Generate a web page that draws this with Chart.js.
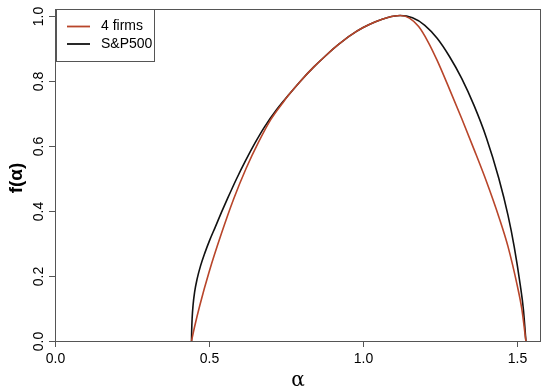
<!DOCTYPE html>
<html>
<head>
<meta charset="utf-8">
<script src="https://cdn.jsdelivr.net/npm/chart.js@4"></script>
<style>
  html, body { margin: 0; padding: 0; background: #fff; }
  #wrap { width: 550px; height: 391px; }
</style>
</head>
<body>
<div id="wrap"><canvas id="specChart"></canvas></div>
<script>
// ================= DATA =================
var seriesNames = ["4 firms", "S&P500"];
var seriesColors = ["#b8452a", "#111111"];

// 4 firms: alpha / f(alpha)
var firmsAlpha = [0.443, 0.452, 0.470, 0.500, 0.540, 0.580, 0.620, 0.660, 0.700, 0.740,
  0.760, 0.800, 0.840, 0.880, 0.920, 0.960, 1.000, 1.040, 1.080, 1.120,
  1.150, 1.180, 1.210, 1.240, 1.280, 1.320, 1.360, 1.400, 1.440, 1.470, 1.500, 1.515, 1.528];
var firmsF = [0.000, 0.040, 0.110, 0.212, 0.330, 0.437, 0.530, 0.610, 0.680, 0.733,
  0.758, 0.802, 0.842, 0.878, 0.911, 0.940, 0.963, 0.981, 0.994, 1.000,
  0.992, 0.966, 0.920, 0.862, 0.774, 0.683, 0.588, 0.490, 0.382, 0.290, 0.170, 0.097, 0.000];

// S&P500: alpha / f(alpha)
var spAlpha = [0.443, 0.4435, 0.445, 0.448, 0.453, 0.461, 0.472, 0.486, 0.502, 0.520, 0.540, 0.560,
  0.590, 0.620, 0.650, 0.680, 0.720, 0.760, 0.800, 0.840, 0.880, 0.920, 0.960, 1.000, 1.040, 1.080, 1.120,
  1.160, 1.200, 1.240, 1.280, 1.320, 1.360, 1.400, 1.440, 1.470, 1.490, 1.510, 1.520, 1.528];
var spF = [0.000, 0.030, 0.070, 0.110, 0.150, 0.190, 0.230, 0.270, 0.310, 0.350, 0.395, 0.438,
  0.500, 0.557, 0.610, 0.658, 0.712, 0.758, 0.802, 0.842, 0.878, 0.911, 0.940, 0.963, 0.981, 0.994, 1.000,
  0.993, 0.970, 0.930, 0.874, 0.806, 0.723, 0.624, 0.500, 0.386, 0.290, 0.170, 0.096, 0.000];

var xTicks = [0.0, 0.5, 1.0, 1.5];
var yTicks = [0.0, 0.2, 0.4, 0.6, 0.8, 1.0];

function toPoints(xs, ys) {
  var pts = [];
  for (var i = 0; i < xs.length; i++) pts.push({ x: xs[i], y: ys[i] });
  return pts;
}

// ================= R-STYLE AXES + LEGEND =================
var rStyle = {
  id: "rStyle",
  afterDraw: function (chart) {
    var ctx = chart.ctx;
    var a = chart.chartArea;
    var xs = chart.scales.x;
    var ys = chart.scales.y;
    ctx.save();
    ctx.strokeStyle = "#555";
    ctx.lineWidth = 1;
    ctx.strokeRect(a.left + 0.5, a.top + 0.5, a.right - a.left - 1, a.bottom - a.top);

    ctx.fillStyle = "#000";
    ctx.font = "14px 'Liberation Sans', Arial, sans-serif";

    // x ticks
    ctx.textAlign = "center";
    ctx.textBaseline = "middle";
    xTicks.forEach(function (v) {
      var px = Math.round(xs.getPixelForValue(v)) + 0.5;
      ctx.beginPath();
      ctx.moveTo(px, a.bottom);
      ctx.lineTo(px, a.bottom + 6);
      ctx.stroke();
      ctx.fillText(v.toFixed(1), px, a.bottom + 18);
    });

    // y ticks (labels parallel to the axis)
    yTicks.forEach(function (v) {
      var py = Math.round(ys.getPixelForValue(v)) + 0.5;
      ctx.beginPath();
      ctx.moveTo(a.left, py);
      ctx.lineTo(a.left - 6, py);
      ctx.stroke();
      ctx.save();
      ctx.translate(a.left - 16, py);
      ctx.rotate(-Math.PI / 2);
      ctx.fillText(v.toFixed(1), 0, 0);
      ctx.restore();
    });

    // axis titles
    ctx.font = "20px 'DejaVu Serif', serif";
    ctx.fillText("\u03b1", (a.left + a.right) / 2, a.bottom + 40);
    ctx.save();
    ctx.translate(17, 178);
    ctx.rotate(-Math.PI / 2);
    ctx.font = "bold 19px 'Liberation Sans', Arial, sans-serif";
    ctx.fillText("f(\u03b1)", 0, 0);
    ctx.restore();

    // legend box
    var lx = a.left + 1, ly = a.top, lw = 98, lh = 52;
    ctx.fillStyle = "#fff";
    ctx.fillRect(lx, ly, lw, lh);
    ctx.strokeStyle = "#555";
    ctx.strokeRect(lx + 0.5, ly + 0.5, lw, lh);
    ctx.font = "14px 'Liberation Sans', Arial, sans-serif";
    ctx.textAlign = "left";
    chart.data.datasets.forEach(function (ds, i) {
      var yy = ly + 17.5 + i * 17.5;
      ctx.strokeStyle = ds.borderColor;
      ctx.lineWidth = 1.8;
      ctx.beginPath();
      ctx.moveTo(lx + 11, yy);
      ctx.lineTo(lx + 34, yy);
      ctx.stroke();
      ctx.fillStyle = "#000";
      ctx.fillText(ds.label, lx + 45, yy);
    });
    ctx.restore();
  }
};

// ================= CHART =================
var ctx = document.getElementById("specChart").getContext("2d");
var specChart = new Chart(ctx, {
  type: "line",
  data: {
    datasets: [{
      label: seriesNames[0],
      data: toPoints(firmsAlpha, firmsF),
      borderColor: seriesColors[0],
      borderWidth: 1.6,
      pointRadius: 0,
      cubicInterpolationMode: "monotone",
      fill: false
    }, {
      label: seriesNames[1],
      data: toPoints(spAlpha, spF),
      borderColor: seriesColors[1],
      borderWidth: 1.6,
      pointRadius: 0,
      cubicInterpolationMode: "monotone",
      fill: false
    }]
  },
  options: {
    responsive: true,
    maintainAspectRatio: false,
    animation: false,
    layout: { padding: { left: 55, top: 9, right: 9, bottom: 50 } },
    plugins: { legend: { display: false }, tooltip: { enabled: false } },
    scales: {
      x: {
        type: "linear", min: 0, max: 1.577,
        grid: { display: false, drawTicks: false },
        border: { display: false },
        ticks: { display: false },
        afterFit: function (s) { s.height = 0; }
      },
      y: {
        type: "linear", min: 0, max: 1.02,
        grid: { display: false, drawTicks: false },
        border: { display: false },
        ticks: { display: false },
        afterFit: function (s) { s.width = 0; }
      }
    }
  },
  plugins: [rStyle]
});
</script>
</body>
</html>
